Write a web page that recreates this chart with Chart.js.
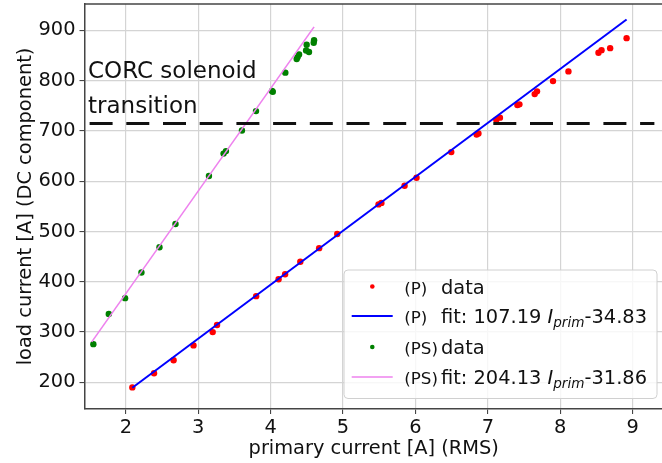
<!DOCTYPE html>
<html>
<head>
<meta charset="utf-8">
<script src="https://cdn.jsdelivr.net/npm/chart.js@4/dist/chart.umd.min.js"></script>
<style>
  html, body { margin: 0; padding: 0; background: #fff; overflow: hidden; }
  #wrap { width: 662px; height: 463px; overflow: hidden; }
  canvas { display: block; }
</style>
</head>
<body>
<div id="wrap"><canvas id="c" width="667" height="463"></canvas></div>
<script>
// ---- data ----
const pDataX = [2.09, 2.39, 2.66, 2.935, 3.20, 3.26, 3.80, 4.11, 4.20, 4.41, 4.67, 4.92, 5.49, 5.53, 5.85, 6.015, 6.495, 6.845, 6.87, 7.117, 7.167, 7.408, 7.436, 7.647, 7.679, 7.90, 8.113, 8.528, 8.57, 8.689, 8.916];
const pDataY = [190, 218, 244, 273.5, 300, 314, 371.5, 405, 415, 440, 467, 495, 554, 557, 591, 607, 658, 693, 695, 722.5, 726.5, 751.6, 753, 773.4, 778.8, 799.2, 818.5, 855.7, 860.8, 864.8, 884.7];

const psDataX = [1.552, 1.765, 1.99, 2.216, 2.465, 2.686, 3.148, 3.35, 3.383, 3.604, 3.798, 4.019, 4.03, 4.203, 4.36, 4.373, 4.393, 4.49, 4.498, 4.53, 4.595, 4.6];
const psDataY = [276, 336, 367.5, 418.6, 468.8, 515, 610.5, 655, 660, 701, 739.6, 779.4, 778, 816, 843, 847, 852, 860, 871.6, 857, 875.5, 880.7];

// fitted straight lines (end points)
const pFitX = [2.09, 8.916];
const pFitY = [189.2, 921.8];
const psFitX = [1.53, 4.60];
const psFitY = [280.5, 907.1];

// CORC solenoid transition level
const transX = [1.5, 9.3];
const transY = [715, 715];

const xTicks = [2, 3, 4, 5, 6, 7, 8, 9];
const yTicks = [200, 300, 400, 500, 600, 700, 800, 900];

const legendPrefix = ['(P)', '(P)', '(PS)', '(PS)'];
const legendMain = ['data', 'fit: 107.19 ', 'data', 'fit: 204.13 '];
const legendTail = ['', '-34.83', '', '-31.86'];

const annotationLines = ['CORC solenoid', 'transition'];

const toPts = (xs, ys) => xs.map((x, i) => ({ x: x, y: ys[i] }));

const FONT = '"DejaVu Sans", "Liberation Sans", sans-serif';

const overlay = {
  id: 'overlay',
  afterDatasetsDraw(chart) {
    const ctx = chart.ctx;
    const ca = chart.chartArea;
    ctx.save();
    // top spine
    ctx.strokeStyle = '#444';
    ctx.lineWidth = 1.5;
    ctx.beginPath();
    ctx.moveTo(ca.left, ca.top);
    ctx.lineTo(ca.right, ca.top);
    ctx.stroke();
    // annotation text
    ctx.fillStyle = '#111';
    ctx.font = '23px ' + FONT;
    ctx.textBaseline = 'alphabetic';
    ctx.textAlign = 'left';
    ctx.fillText(annotationLines[0], 88, 78.3);
    ctx.fillText(annotationLines[1], 88, 113.3);
    ctx.restore();
  },
  afterDraw(chart) {
    const ctx = chart.ctx;
    ctx.save();
    // legend frame
    const bx = 344, by = 270, bw = 313, bh = 128.5, r = 4;
    ctx.beginPath();
    ctx.moveTo(bx + r, by);
    ctx.lineTo(bx + bw - r, by);
    ctx.quadraticCurveTo(bx + bw, by, bx + bw, by + r);
    ctx.lineTo(bx + bw, by + bh - r);
    ctx.quadraticCurveTo(bx + bw, by + bh, bx + bw - r, by + bh);
    ctx.lineTo(bx + r, by + bh);
    ctx.quadraticCurveTo(bx, by + bh, bx, by + bh - r);
    ctx.lineTo(bx, by + r);
    ctx.quadraticCurveTo(bx, by, bx + r, by);
    ctx.closePath();
    ctx.fillStyle = 'rgba(255,255,255,0.8)';
    ctx.fill();
    ctx.strokeStyle = '#d0d0d0';
    ctx.lineWidth = 1;
    ctx.stroke();

    const rows = [293.5, 323, 354, 384];
    const ds = chart.data.datasets;
    const handles = [ds[0], ds[1], ds[2], ds[3]];
    rows.forEach((base, i) => {
      const h = handles[i];
      const mid = base - 7;
      if (h.showLine) {
        ctx.strokeStyle = h.borderColor;
        ctx.lineWidth = h.borderWidth;
        ctx.beginPath();
        ctx.moveTo(351.7, mid);
        ctx.lineTo(392.7, mid);
        ctx.stroke();
      } else {
        ctx.fillStyle = h.backgroundColor;
        ctx.beginPath();
        ctx.arc(372.3, mid, 2.3, 0, Math.PI * 2);
        ctx.fill();
      }
      ctx.fillStyle = '#111';
      ctx.textAlign = 'left';
      ctx.textBaseline = 'alphabetic';
      ctx.font = '16.7px ' + FONT;
      ctx.fillText(legendPrefix[i], 404.3, base);
      ctx.font = '19.4px ' + FONT;
      let x = 441;
      ctx.fillText(legendMain[i], x, base);
      x += ctx.measureText(legendMain[i]).width;
      if (legendTail[i]) {
        ctx.font = 'italic 19.4px ' + FONT;
        ctx.fillText('I', x, base);
        x += ctx.measureText('I').width;
        ctx.font = 'italic 13.6px ' + FONT;
        ctx.fillText('prim', x, base + 4);
        x += ctx.measureText('prim').width;
        ctx.font = '19.4px ' + FONT;
        ctx.fillText(legendTail[i], x, base);
      }
    });
    ctx.restore();
  }
};

new Chart(document.getElementById('c'), {
  type: 'scatter',
  data: {
    datasets: [
      { label: '(P) data', data: toPts(pDataX, pDataY), backgroundColor: '#ff0000', borderColor: '#ff0000', borderWidth: 0, pointRadius: 3.2, showLine: false, order: 3 },
      { label: '(P) fit', data: toPts(pFitX, pFitY), borderColor: '#0000ff', backgroundColor: '#0000ff', borderWidth: 2, pointRadius: 0, showLine: true, order: 1 },
      { label: '(PS) data', data: toPts(psDataX, psDataY), backgroundColor: '#008000', borderColor: '#008000', borderWidth: 0, pointRadius: 3.2, showLine: false, order: 3 },
      { label: '(PS) fit', data: toPts(psFitX, psFitY), borderColor: '#ee82ee', backgroundColor: '#ee82ee', borderWidth: 1.6, pointRadius: 0, showLine: true, order: 1 },
      { label: 'transition', data: toPts(transX, transY), borderColor: '#111', backgroundColor: '#111', borderWidth: 3, borderDash: [23, 13.7], pointRadius: 0, showLine: true, order: 0 }
    ]
  },
  options: {
    responsive: false,
    animation: false,
    devicePixelRatio: 1,
    layout: { padding: { top: 2, left: 0, right: 0, bottom: 0 } },
    plugins: { legend: { display: false }, tooltip: { enabled: false } },
    scales: {
      x: {
        type: 'linear',
        min: 1.4295,
        max: 9.419,
        afterBuildTicks: (s) => { s.ticks = xTicks.map(v => ({ value: v })); },
        afterFit: (s) => { s.height = 54; s.paddingLeft = 0; s.paddingRight = 0; },
        grid: { color: '#d4d4d4', lineWidth: 1.2, tickColor: '#333', tickLength: 5, tickWidth: 1 },
        border: { display: true, color: '#444', width: 1.5 },
        ticks: { color: '#111', font: { family: FONT, size: 19.4 }, padding: 2, maxRotation: 0 },
        title: { display: true, text: 'primary current [A] (RMS)', color: '#111', font: { family: FONT, size: 19.4 }, padding: { top: 0, bottom: 2 } }
      },
      y: {
        type: 'linear',
        min: 147,
        max: 952.6,
        afterBuildTicks: (s) => { s.ticks = yTicks.map(v => ({ value: v })); },
        afterFit: (s) => { s.width = 84.5; s.paddingTop = 0; s.paddingBottom = 0; },
        grid: { color: '#d4d4d4', lineWidth: 1.2, tickColor: '#333', tickLength: 5, tickWidth: 1 },
        border: { display: true, color: '#444', width: 1.5 },
        ticks: { color: '#111', font: { family: FONT, size: 19.4 }, padding: 4 },
        title: { display: true, text: 'load current [A] (DC component)', color: '#111', font: { family: FONT, size: 19.4 }, padding: { top: 14, bottom: 0 } }
      }
    }
  },
  plugins: [overlay]
});
</script>
</body>
</html>
